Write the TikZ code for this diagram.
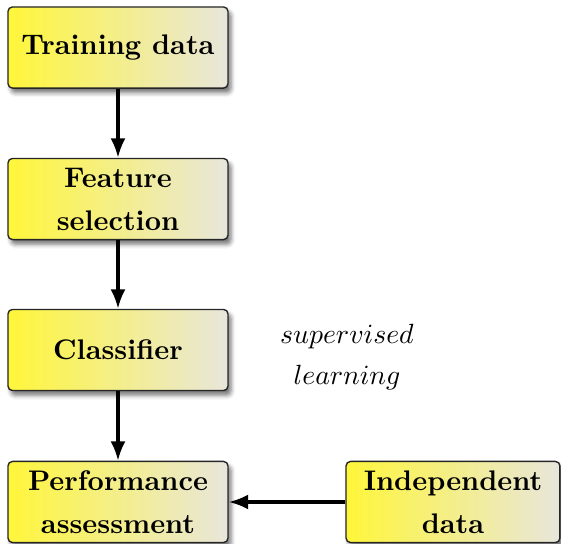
\documentclass[tikz,border=0pt]{standalone}
\usetikzlibrary{arrows.meta,shadows.blur}
\definecolor{boxleft}{RGB}{255,246,58}
\definecolor{boxright}{RGB}{232,230,220}
\begin{document}
\begin{tikzpicture}[x=0.36pt,y=-0.36pt,
  stage/.style={draw=black!85, line width=0.5pt, rounded corners=1.6pt,
    left color=boxleft, right color=boxright,
    minimum width=79.2pt, minimum height=29.2pt, inner sep=0pt,
    align=center, font=\fontsize{10.2}{12.2}\selectfont\bfseries,
    blur shadow={shadow xshift=1.1pt, shadow yshift=-1.7pt,
      shadow blur radius=1.6pt, shadow opacity=55}},
  flow/.style={-{Latex[length=7pt,width=5.4pt]}, line width=1.1pt}]
  \useasboundingbox (0,0) rectangle (561,544);

  % processing chain
  \node[stage] (train) at (118,47.5) {Training data};
  \node[stage] (feat)  at (118,199)  {Feature\\[3.3pt]selection};
  \node[stage] (clf)   at (118,350)  {Classifier};
  \node[stage] (perf)  at (118,502)  {Performance\\[3.3pt]assessment};
  \node[stage, minimum width=77pt] (indep) at (453,502) {Independent\\[3.3pt]data};

  % annotation
  \node[align=center] (sup) at (347,357) {$supervised$\\[2.5pt]$learning$};

  % connectors
  \draw[flow] (train) -- (feat);
  \draw[flow] (feat) -- (clf);
  \draw[flow] (clf) -- (perf);
  \draw[flow] (indep) -- (perf);
\end{tikzpicture}
\end{document}
